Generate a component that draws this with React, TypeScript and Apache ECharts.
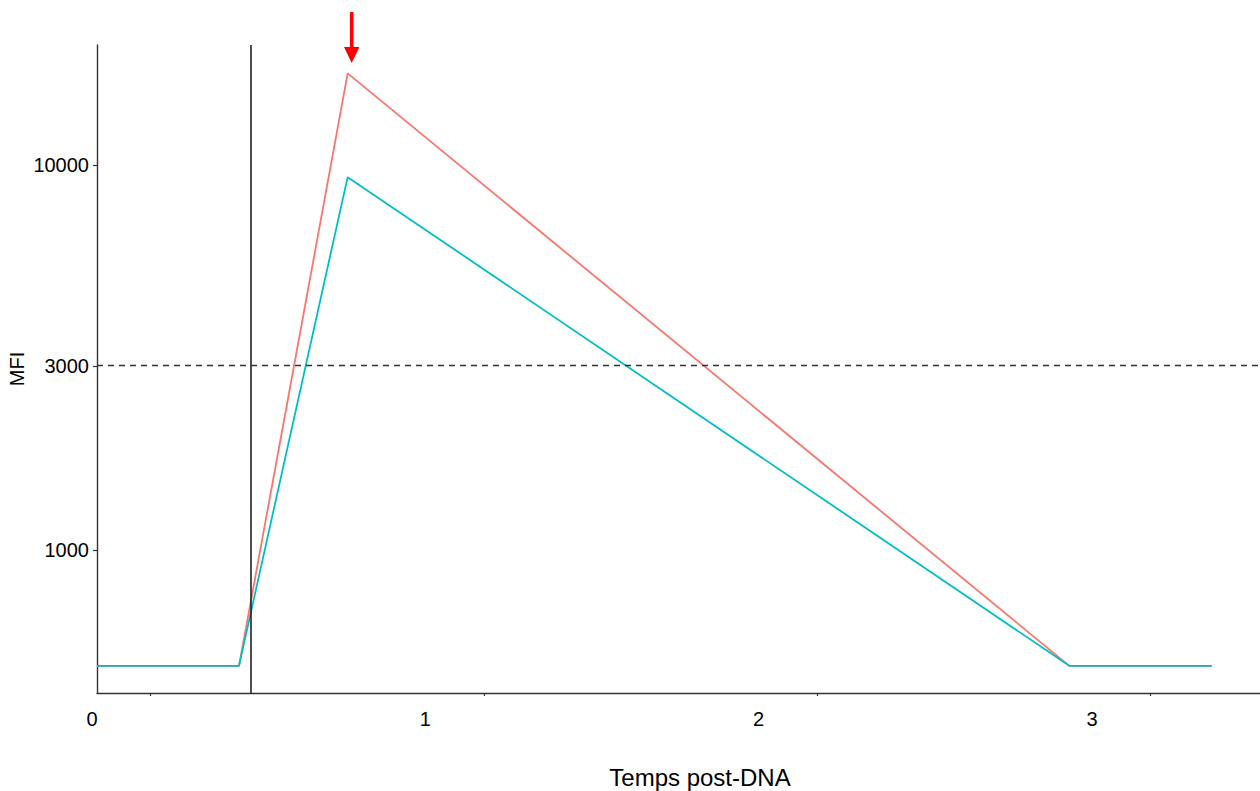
import React, { useEffect, useRef } from "react";
import * as echarts from "echarts";

// Data (x in "Temps post-DNA" units, y = MFI)
const times = [0.018, 0.444, 0.77, 2.935, 3.362];
const mfiRed = [500, 500, 17300, 500, 500];
const mfiTeal = [500, 500, 9300, 500, 500];
const xTickLabels = [0, 1, 2, 3];
const yTickLabels = [1000, 3000, 10000];
const thresholdMFI = 3000;
const verticalMarkTime = 0.478;
const yRangeMFI = [425, 20500];

const FONT = "'Liberation Sans', Arial, Helvetica, sans-serif";

export default function App() {
  const ref = useRef<HTMLDivElement>(null);

  useEffect(() => {
    if (!ref.current) return;
    const chart = echarts.init(ref.current, undefined, { renderer: "svg" });
    const lg = (v: number) => Math.log10(v);
    const axisColor = "#333";
    const gridBase = { top: 45, bottom: 98, containLabel: false, outerBoundsMode: "none" };

    const option: any = {
      animation: false,
      backgroundColor: "#ffffff",
      grid: [
        { ...gridBase, left: 97, right: 0 },
        { ...gridBase, left: 92, right: -48 },
        { ...gridBase, left: 150.5, right: -23.7 },
      ],
      xAxis: [
        {
          gridIndex: 0,
          type: "value",
          min: 0.018,
          max: 3.507,
          axisLine: { show: true, lineStyle: { color: axisColor, width: 1.4 } },
          axisTick: { show: false },
          axisLabel: { show: false },
          splitLine: { show: false },
        },
        {
          gridIndex: 1,
          type: "value",
          min: 0,
          max: 3.648,
          interval: 1,
          axisLine: { show: false },
          axisTick: { show: false },
          splitLine: { show: false },
          axisLabel: {
            show: true,
            color: "#000",
            fontFamily: FONT,
            fontSize: 20,
            margin: 16,
            showMaxLabel: false,
            formatter: (v: number) =>
              xTickLabels.includes(v) ? String(v) : "",
          },
          name: "Temps post-DNA",
          nameLocation: "middle",
          nameGap: 72,
          nameMoveOverlap: false,
          nameTextStyle: { color: "#000", fontFamily: FONT, fontSize: 24 },
        },
        {
          gridIndex: 2,
          type: "value",
          min: 0,
          max: 3.4,
          interval: 1,
          axisLine: { show: false },
          axisTick: { show: true, length: 3, lineStyle: { color: axisColor, width: 1.2 } },
          axisLabel: { show: false },
          splitLine: { show: false },
        },
      ],
      yAxis: [
        {
          gridIndex: 0,
          type: "value",
          min: lg(yRangeMFI[0]),
          max: lg(yRangeMFI[1]),
          axisLine: { show: true, lineStyle: { color: axisColor, width: 1.4 } },
          axisTick: {
            show: true,
            length: 4,
            customValues: yTickLabels.map(lg),
            lineStyle: { color: axisColor, width: 1.2 },
          },
          axisLabel: {
            show: true,
            customValues: yTickLabels.map(lg),
            color: "#000",
            fontFamily: FONT,
            fontSize: 20,
            margin: 8,
            formatter: (v: number) => String(Math.round(Math.pow(10, v))),
          },
          splitLine: { show: false },
          name: "MFI",
          nameLocation: "middle",
          nameGap: 70,
          nameMoveOverlap: false,
          nameRotate: 90,
          nameTextStyle: { color: "#000", fontFamily: FONT, fontSize: 20 },
        },
        { gridIndex: 1, type: "value", show: false, min: 0, max: 1 },
        { gridIndex: 2, type: "value", show: false, min: 0, max: 1 },
      ],
      series: [
        {
          type: "line",
          xAxisIndex: 0,
          yAxisIndex: 0,
          data: times.map((t, i) => [t, lg(mfiRed[i])]),
          showSymbol: false,
          symbol: "none",
          lineStyle: { color: "#F8766D", width: 1.8 },
          itemStyle: { color: "#F8766D" },
          markLine: {
            silent: true,
            symbol: ["none", "none"],
            label: { show: false },
            data: [
              {
                xAxis: verticalMarkTime,
                lineStyle: { color: "#222", width: 1.6, type: "solid" },
              },
              {
                yAxis: lg(thresholdMFI),
                lineStyle: { color: "#333", width: 1.3, type: [6, 5] },
              },
            ],
          },
        },
        {
          type: "line",
          xAxisIndex: 0,
          yAxisIndex: 0,
          data: times.map((t, i) => [t, lg(mfiTeal[i])]),
          showSymbol: false,
          symbol: "none",
          lineStyle: { color: "#00BFC4", width: 1.8 },
          itemStyle: { color: "#00BFC4" },
        },
      ],
      graphic: [
        {
          type: "line",
          shape: { x1: 351.7, y1: 12, x2: 351.7, y2: 50 },
          style: { stroke: "#FF0000", lineWidth: 3.5 },
        },
        {
          type: "polygon",
          shape: { points: [[344, 47], [359.4, 47], [351.7, 63]] },
          style: { fill: "#FF0000" },
        },
      ],
    };

    chart.setOption(option);
    return () => chart.dispose();
  }, []);

  return (
    <div
      ref={ref}
      style={{ position: "fixed", left: 0, top: 0, width: 1260, height: 791 }}
    />
  );
}
